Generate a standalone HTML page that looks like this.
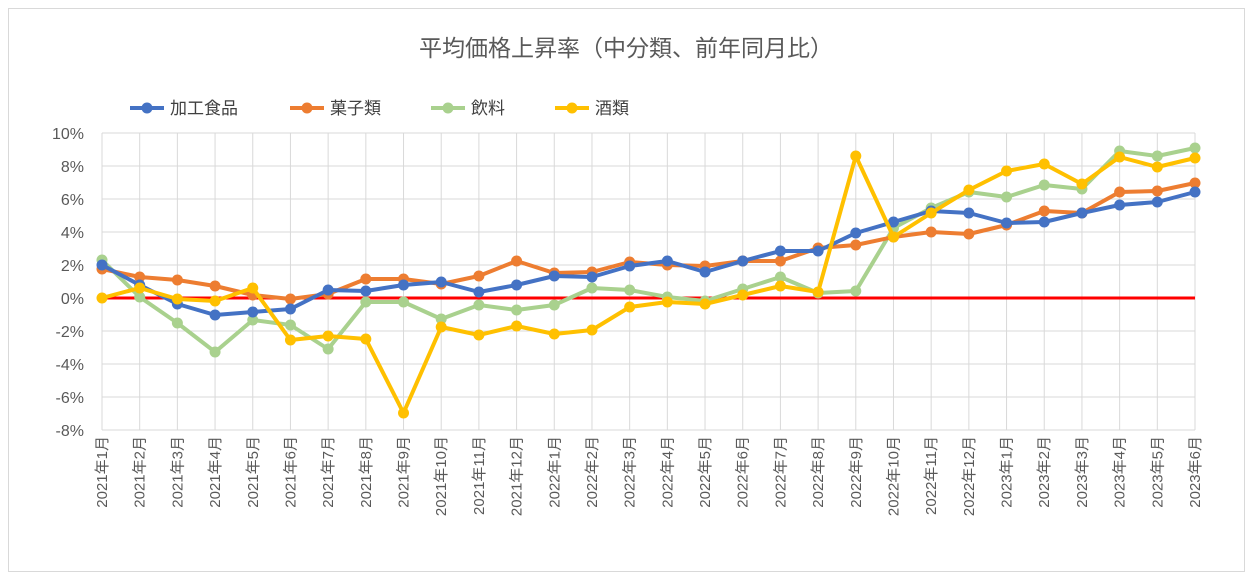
<!DOCTYPE html>
<html><head><meta charset="utf-8"><style>
body{margin:0;background:#fff;}
svg{display:block;font-family:"Liberation Sans","Noto Sans CJK JP",sans-serif;}
</style></head><body>
<svg width="1253" height="578" viewBox="0 0 1253 578" xmlns="http://www.w3.org/2000/svg">
<rect x="0" y="0" width="1253" height="578" fill="#fff"/>
<rect x="8.5" y="8.5" width="1236" height="563" fill="#fff" stroke="#d9d9d9"/>
<text x="626" y="56" font-size="23" text-anchor="middle" fill="#595959">平均価格上昇率（中分類、前年同月比）</text>
<g font-size="17" fill="#404040">
<line x1="130" y1="108" x2="164" y2="108" stroke="#4472c4" stroke-width="4"/><circle cx="147" cy="108" r="5.5" fill="#4472c4"/><text x="170" y="114">加工食品</text>
<line x1="290" y1="108" x2="324" y2="108" stroke="#ed7d31" stroke-width="4"/><circle cx="307" cy="108" r="5.5" fill="#ed7d31"/><text x="330" y="114">菓子類</text>
<line x1="431" y1="108" x2="465" y2="108" stroke="#a9d18e" stroke-width="4"/><circle cx="448" cy="108" r="5.5" fill="#a9d18e"/><text x="471" y="114">飲料</text>
<line x1="555" y1="108" x2="589" y2="108" stroke="#ffc000" stroke-width="4"/><circle cx="572" cy="108" r="5.5" fill="#ffc000"/><text x="595" y="114">酒類</text>
</g>
<g id="grid" stroke="#d9d9d9" stroke-width="1"></g>
<g id="ylab" font-size="16" fill="#595959" text-anchor="end"></g>
<g id="xlab" font-size="15" fill="#595959"></g>
<g id="series"></g>
<script>
var x0=102,dx=1093/29,y10=133,pp=16.5;
var g=document.getElementById('grid'),yl=document.getElementById('ylab'),xl=document.getElementById('xlab'),se=document.getElementById('series');
var ns='http://www.w3.org/2000/svg';
function el(p,t,a,txt){var e=document.createElementNS(ns,t);for(var k in a)e.setAttribute(k,a[k]);if(txt!=null)e.textContent=txt;p.appendChild(e);return e;}
for(var v=10;v>=-8;v-=2){var y=y10+(10-v)*pp;el(g,'line',{x1:x0,x2:1195,y1:y,y2:y});el(yl,'text',{x:84,y:y+6},v+'%');}
var labs=[];for(var i=0;i<30;i++){var yr=2021+Math.floor(i/12),m=i%12+1;labs.push(yr+'年'+m+'月');}
for(var i=0;i<30;i++){var x=x0+i*dx;el(g,'line',{x1:x,x2:x,y1:133,y2:430});el(xl,'text',{x:0,y:0,transform:'translate('+(x+5)+',436) rotate(-90)','text-anchor':'end'},labs[i]);}
var data=[
['#a9d18e',[260,297,323,352,320,325,349,302,302,319,305,310,305,288,290,297,301,289,277,293,291,228,208,192,197,185,189,151,156,148]],
['#ed7d31',[269,277,280,286,295,299,294,279,279,284,276,261,273,272,262,265,266,261,261,248,245,237,232,234,225,211,213,192,191,183]],
['#4472c4',[265,285,304,315,312,309,290,291,285,282,292,285,276,277,266,261,272,261,251,251,233,222,211,213,223,222,213,205,202,192]],
['#ffc000',[298,288,299,301,288,340,336,339,413,327,335,326,334,330,307,302,304,295,286,292,156,237,213,190,171,164,184,157,167,158]]];
el(se,'line',{x1:x0,x2:1195,y1:298,y2:298,stroke:'#ff0000','stroke-width':3});
data.forEach(function(d){var pts=d[1].map(function(y,i){return (x0+i*dx).toFixed(1)+','+y;}).join(' ');
el(se,'polyline',{points:pts,fill:'none',stroke:d[0],'stroke-width':4,'stroke-linejoin':'round'});
d[1].forEach(function(y,i){el(se,'circle',{cx:x0+i*dx,cy:y,r:5.5,fill:d[0]});});});
</script>
</svg>
</body></html>
